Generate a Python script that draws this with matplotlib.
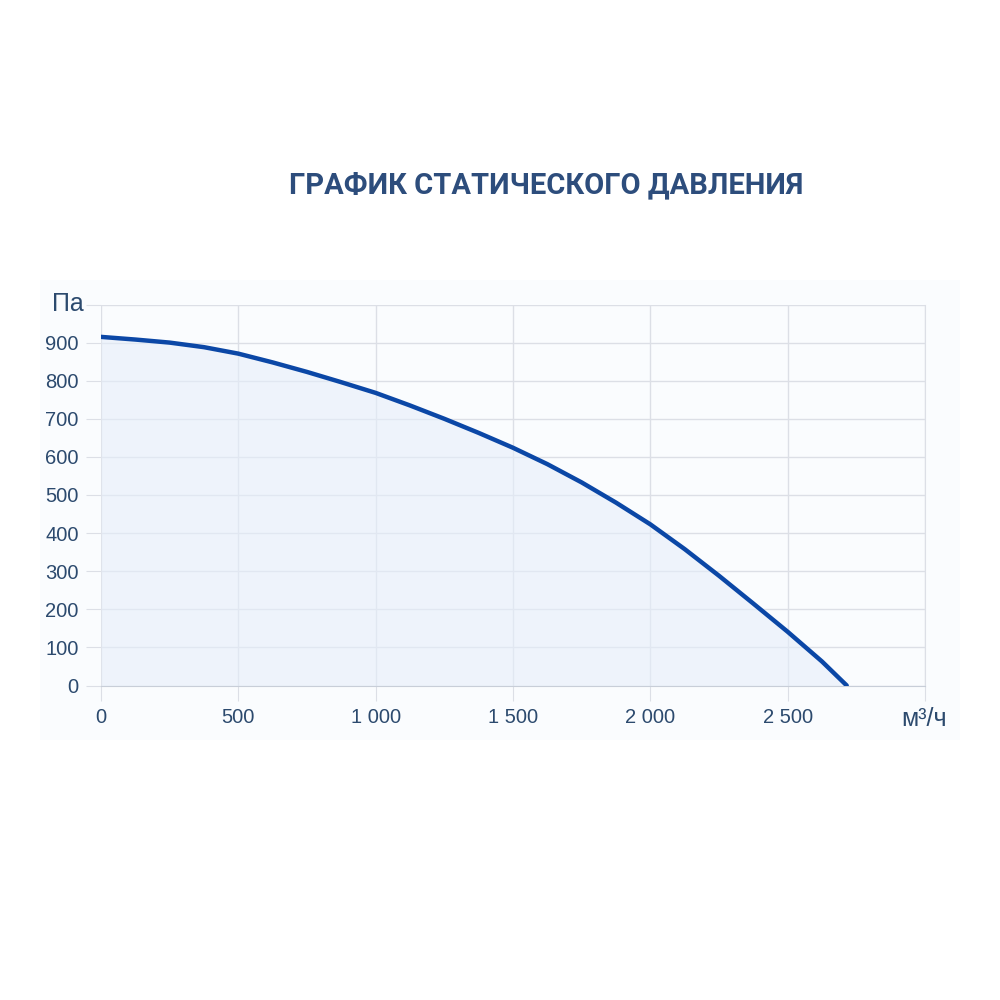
import matplotlib.pyplot as plt
from matplotlib.patches import Rectangle

# данные кривой статического давления
rashod = [0, 125, 250, 375, 500, 625, 750, 875, 1000, 1125, 1250, 1375, 1500,
          1625, 1750, 1875, 2000, 2125, 2250, 2375, 2500, 2625, 2715]
davlenie = [915, 908, 900, 888, 871, 848, 823, 796, 768, 735, 700, 663, 624,
            581, 533, 480, 423, 358, 288, 215, 141, 63, 0]

x_ticks = [0, 500, 1000, 1500, 2000, 2500, 3000]
x_labels = ["0", "500", "1 000", "1 500", "2 000", "2 500", ""]
y_ticks = [0, 100, 200, 300, 400, 500, 600, 700, 800, 900, 1000]

title = "ГРАФИК СТАТИЧЕСКОГО ДАВЛЕНИЯ"
text_color = "#2c4a6e"
line_color = "#0b47a6"
grid_color = "#dcdfe6"

fig = plt.figure(figsize=(10, 10), dpi=100)
fig.patch.set_facecolor("white")
fig.patches.append(Rectangle((0.04, 0.26), 0.92, 0.46, transform=fig.transFigure,
                             facecolor="#fafcfe", edgecolor="none", zorder=-1))

ax = fig.add_axes([0.101, 0.3145, 0.824, 0.381])
ax.set_zorder(2)
ax.set_facecolor("#fafcfe")
ax.set_xlim(0, 3000)
ax.set_ylim(0, 1000)

ax.fill_between(rashod, davlenie, 0, color="#e6eef9", alpha=0.6, lw=0, zorder=1)
ax.plot(rashod, davlenie, color=line_color, lw=3.2, solid_capstyle="round",
        solid_joinstyle="round", zorder=3)

ax.set_xticks(x_ticks)
ax.set_xticklabels(x_labels)
ax.set_yticks(y_ticks)
ax.set_yticklabels([str(v) if v < 1000 else "" for v in y_ticks])
ax.set_axisbelow(True)
ax.grid(True, color=grid_color, lw=1)
ax.tick_params(axis="x", length=11, color=grid_color, pad=5, labelsize=14.5, labelcolor=text_color)
ax.tick_params(axis="y", length=11, color=grid_color, pad=5, labelsize=14.5, labelcolor=text_color)
for lbl in ax.get_xticklabels() + ax.get_yticklabels():
    lbl.set_family("Liberation Sans")

for side in ["top", "left"]:
    ax.spines[side].set_visible(False)
ax.spines["bottom"].set_color("#c8ced8")
ax.spines["right"].set_color(grid_color)

fig.text(0.546, 0.815, title, ha="center", va="center", fontsize=21,
         fontweight="bold", color="#2d4d7c", family="Roboto")
fig.text(0.068, 0.696, "Па", ha="center", va="center", fontsize=18,
         color=text_color, family="Liberation Sans")
fig.text(0.924, 0.281, "м³/ч", ha="center", va="center", fontsize=18,
         color=text_color, family="Liberation Sans")

fig.savefig("out.png", dpi=100)
